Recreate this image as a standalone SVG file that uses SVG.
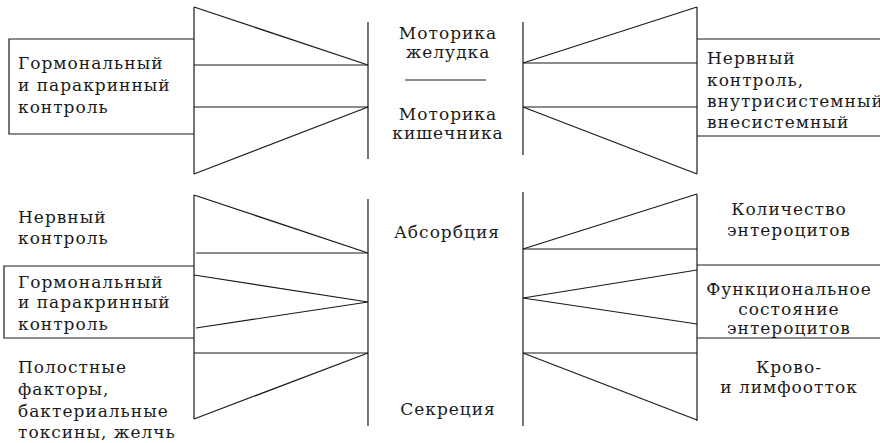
<svg xmlns="http://www.w3.org/2000/svg" width="880" height="443" viewBox="0 0 880 443">
<style>
  line, rect, path { stroke: #1a1a1a; stroke-width: 1.2; fill: none; }
  .t text { font-family: "DejaVu Serif", "Liberation Serif", serif; font-size: 17px; letter-spacing: 1px; fill: #1a1a1a; }
  .c { text-anchor: middle; }
</style>
<rect width="880" height="443" fill="#ffffff" style="stroke:none"/>

<g id="connectors">
  <line x1="194" y1="7" x2="194" y2="174"/>
  <line x1="194" y1="7" x2="368" y2="65"/>
  <line x1="194" y1="65" x2="368" y2="65"/>
  <line x1="194" y1="107" x2="368" y2="107"/>
  <line x1="194" y1="174" x2="368" y2="107"/>
  <line x1="368" y1="22" x2="368" y2="159"/>
  <line x1="523" y1="22" x2="523" y2="155"/>
  <line x1="697" y1="7" x2="697" y2="174"/>
  <line x1="523" y1="63" x2="697" y2="7"/>
  <line x1="523" y1="63" x2="697" y2="63"/>
  <line x1="523" y1="107" x2="697" y2="107"/>
  <line x1="523" y1="107" x2="697" y2="174"/>
  <line x1="405" y1="80" x2="486" y2="80"/>
  <line x1="194" y1="195" x2="194" y2="419"/>
  <line x1="194" y1="195" x2="368" y2="253"/>
  <line x1="196" y1="253" x2="368" y2="253"/>
  <line x1="194" y1="275" x2="368" y2="302"/>
  <line x1="196" y1="328" x2="368" y2="302"/>
  <line x1="194" y1="353" x2="368" y2="353"/>
  <line x1="194" y1="419" x2="368" y2="353"/>
  <line x1="368" y1="199" x2="368" y2="426"/>
  <line x1="523" y1="192" x2="523" y2="426"/>
  <line x1="697" y1="194" x2="697" y2="421"/>
  <line x1="523" y1="249" x2="697" y2="194"/>
  <line x1="523" y1="249" x2="697" y2="249"/>
  <line x1="697" y1="270" x2="523" y2="298"/>
  <line x1="523" y1="298" x2="697" y2="324"/>
  <line x1="523" y1="353" x2="697" y2="353"/>
  <line x1="523" y1="353" x2="697" y2="420"/>
  <line x1="697" y1="265" x2="880" y2="265"/>
  <line x1="697" y1="338" x2="880" y2="338"/>
</g>

<g class="t">
<g id="n-hormonal-top">
  <path d="M194 39 H9 V134 H194"/>
  <text x="18" y="69">Гормональный</text>
  <text x="18" y="91">и паракринный</text>
  <text x="18" y="113">контроль</text>
</g>

<g id="n-nervous-top">
  <path d="M697 39 H880 M697 136 H880"/>
  <text x="707" y="64">Нервный</text>
  <text x="707" y="86">контроль,</text>
  <text x="707" y="107">внутрисистемный,</text>
  <text x="707" y="128">внесистемный</text>
</g>

<g id="n-motor-stomach">
  <text class="c" x="448" y="39">Моторика</text>
  <text class="c" x="448" y="58">желудка</text>
</g>

<g id="n-motor-intestine">
  <text class="c" x="448" y="120">Моторика</text>
  <text class="c" x="448" y="139">кишечника</text>
</g>

<g id="n-absorption">
  <text class="c" x="447" y="238">Абсорбция</text>
</g>

<g id="n-secretion">
  <text class="c" x="448" y="415">Секреция</text>
</g>

<g id="n-nervous-bottom">
  <text x="18" y="223">Нервный</text>
  <text x="18" y="244">контроль</text>
</g>

<g id="n-hormonal-bottom">
  <path d="M194 266 H4 V338 H194"/>
  <text x="18" y="288">Гормональный</text>
  <text x="18" y="308">и паракринный</text>
  <text x="18" y="330">контроль</text>
</g>

<g id="n-cavity">
  <text x="18" y="373">Полостные</text>
  <text x="18" y="395">факторы,</text>
  <text x="18" y="417">бактериальные</text>
  <text x="18" y="438">токсины, желчь</text>
</g>

<g id="n-count">
  <text class="c" x="789" y="215">Количество</text>
  <text class="c" x="789" y="236">энтероцитов</text>
</g>

<g id="n-functional">
  <text class="c" x="789" y="295">Функциональное</text>
  <text class="c" x="789" y="315">состояние</text>
  <text class="c" x="789" y="334">энтероцитов</text>
</g>

<g id="n-blood">
  <text class="c" x="789" y="373">Крово-</text>
  <text class="c" x="789" y="393">и лимфоотток</text>
</g>
</g>
</svg>
